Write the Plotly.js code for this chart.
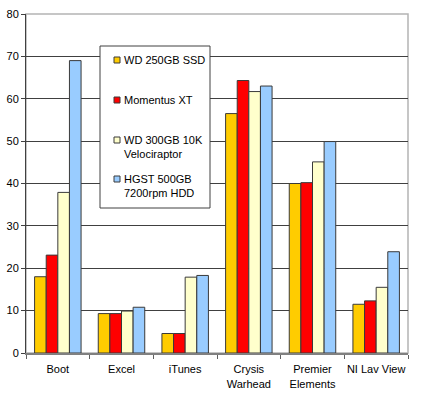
<!DOCTYPE html>
<html>
<head>
<meta charset="utf-8">
<script src="https://cdn.plot.ly/plotly-3.0.1.min.js"></script>
<style>html,body{margin:0;padding:0;background:#fff;}#chart{width:421px;height:397px;}</style>
</head>
<body>
<div id="chart"></div>
<script>
var categories = ["Boot", "Excel", "iTunes", "Crysis<br>Warhead", "Premier<br>Elements", "NI Lav View"];
var seriesNames = ["WD 250GB SSD", "Momentus XT", "WD 300GB 10K<br>Velociraptor", "HGST 500GB<br>7200rpm HDD"];
var wdSSD      = [18, 9.3, 4.6, 56.5, 40.0, 11.5];
var momentusXT = [23.1, 9.3, 4.6, 64.3, 40.2, 12.3];
var velociraptor = [37.9, 9.9, 17.9, 61.7, 45.1, 15.5];
var hgstHDD    = [69, 10.8, 18.3, 63.0, 49.9, 23.9];
var yTicks = [0, 10, 20, 30, 40, 50, 60, 70, 80];

var colors = ["#FFCC00", "#FF0000", "#FFFFCC", "#99CCFF"];
var seriesValues = [wdSSD, momentusXT, velociraptor, hgstHDD];

var W = 421, H = 397, mL = 26, mR = 13, mT = 14, mB = 44;
var pw = W - mL - mR, ph = H - mT - mB;
function px(x) { return (x - mL) / pw; }
function py(y) { return (H - mB - y) / ph; }

var traces = seriesValues.map(function (vals, i) {
  return {
    type: "bar",
    x: categories,
    y: vals,
    name: seriesNames[i],
    marker: { color: colors[i], line: { color: "#3a3a3a", width: 1 } },
    hoverinfo: "skip"
  };
});

var shapes = [
  { type: "rect", xref: "paper", yref: "paper", x0: 0, x1: 1, y0: 0, y1: 1,
    line: { color: "#b4b4b4", width: 1.5 }, fillcolor: "rgba(0,0,0,0)", layer: "below" },
  { type: "rect", xref: "paper", yref: "paper", x0: px(100), x1: px(210), y0: py(208), y1: py(46),
    line: { color: "#404040", width: 1 }, fillcolor: "#ffffff", layer: "above" }
];
var swatchY = [60, 100, 140, 179];
var textY = [60, 100, 147, 186];
var annotations = [];
for (var i = 0; i < 4; i++) {
  shapes.push({ type: "rect", xref: "paper", yref: "paper",
    x0: px(114), x1: px(120), y0: py(swatchY[i] + 3), y1: py(swatchY[i] - 3),
    line: { color: "#3a3a3a", width: 1 }, fillcolor: colors[i], layer: "above" });
  annotations.push({ xref: "paper", yref: "paper", x: px(122), y: py(textY[i]),
    xanchor: "left", yanchor: "middle", align: "left", showarrow: false,
    text: seriesNames[i], font: { size: 11, color: "#000" } });
}

var layout = {
  width: W, height: H,
  margin: { l: mL, r: mR, t: mT, b: mB, pad: 0 },
  paper_bgcolor: "#ffffff", plot_bgcolor: "#ffffff",
  font: { family: "Liberation Sans, Arial, sans-serif", size: 11, color: "#000" },
  showlegend: false,
  barmode: "group", bargap: 0.27, bargroupgap: 0,
  xaxis: {
    type: "category", tickson: "boundaries", ticks: "outside", ticklen: 4,
    tickangle: 0, automargin: false, ticklabelstandoff: 5,
    tickcolor: "#606060", showline: true, linecolor: "#808080", linewidth: 2,
    showgrid: false, zeroline: false, fixedrange: true
  },
  yaxis: {
    range: [0, 80], tickvals: yTicks, ticktext: yTicks.map(String),
    ticks: "outside", ticklen: 4, tickcolor: "#404040", automargin: false,
    showline: true, linecolor: "#404040", linewidth: 1,
    showgrid: true, gridcolor: "#404040", gridwidth: 1, zeroline: false, fixedrange: true
  },
  shapes: shapes,
  annotations: annotations
};

Plotly.newPlot("chart", traces, layout, { staticPlot: true, displayModeBar: false });
</script>
</body>
</html>
